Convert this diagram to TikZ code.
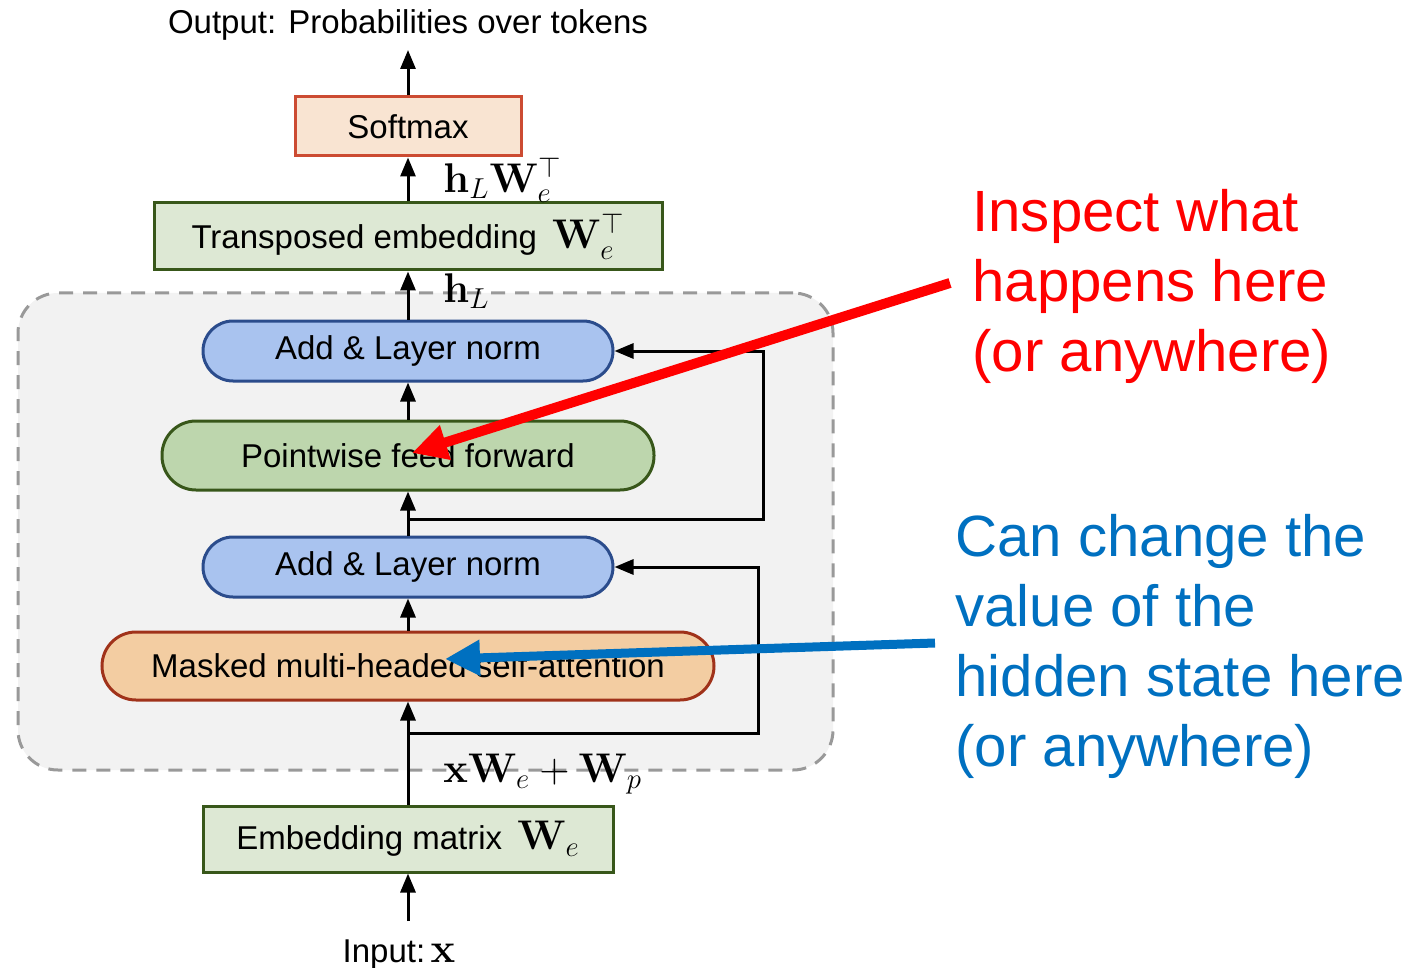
\documentclass[tikz,border=0pt]{standalone}
\usepackage[no-math]{fontspec}
\setmainfont{Liberation Sans}
\usetikzlibrary{arrows.meta}
\definecolor{smfill}{HTML}{F9E4D2}
\definecolor{smdraw}{HTML}{CC4B32}
\definecolor{gfill}{HTML}{DDE8D4}
\definecolor{gdraw}{HTML}{38571A}
\definecolor{bfill}{HTML}{A9C3EF}
\definecolor{bdraw}{HTML}{2B4C8C}
\definecolor{pfill}{HTML}{BDD6AD}
\definecolor{mfill}{HTML}{F3CDA2}
\definecolor{mdraw}{HTML}{A0321A}
\definecolor{regfill}{HTML}{F2F2F2}
\definecolor{regdraw}{HTML}{999999}
\definecolor{annred}{HTML}{FF0000}
\definecolor{annblue}{HTML}{0070C0}
\newcommand{\boxmath}[1]{{\fontsize{20.5}{22}\selectfont$#1$}}
\begin{document}
\begin{tikzpicture}[x=0.5pt,y=-0.5pt,
  box/.style={draw, line width=1.5pt, inner sep=0pt, font=\fontsize{16.5}{19}\selectfont},
  pill/.style={box, rounded corners=#1},
  conn/.style={line width=1.5pt, -{Triangle[length=9.5pt,width=7.5pt]}},
  resid/.style={line width=1.5pt, -{Triangle[length=9.5pt,width=7.5pt]}},
  mlabel/.style={anchor=west, inner sep=0pt, font=\fontsize{21.5}{23}\selectfont},
  plain/.style={inner sep=0pt, font=\fontsize{16.5}{19}\selectfont},
  annot/.style={anchor=north west, inner sep=0pt, align=left, font=\fontsize{29.1}{35}\selectfont},
  annarrow/.style={line width=#1, -{Triangle[length=17.5pt,width=17pt]}}
]
\useasboundingbox (0,0) rectangle (1424,968);

% region
\node[draw=regdraw, fill=regfill, dashed, dash pattern=on 7pt off 5pt, line width=1.5pt,
  rounded corners=20pt, minimum width=407.5pt, minimum height=238.5pt, inner sep=0pt]
  (region) at (425.5,531.5) {};

% boxes
\node[box, fill=smfill, draw=smdraw, minimum width=113pt, minimum height=29.5pt] (softmax) at (408,126.5) {Softmax};
\node[box, fill=gfill, draw=gdraw, minimum width=254pt, minimum height=33.5pt] (trans) at (408,236.5) {Transposed embedding\ \hspace{3pt}\boxmath{\mathbf{W}_e^\top}};
\node[pill=15pt, fill=bfill, draw=bdraw, minimum width=205pt, minimum height=30pt] (add1) at (408,351) {Add \& Layer norm};
\node[pill=17pt, fill=pfill, draw=gdraw, minimum width=246pt, minimum height=34.5pt] (pff) at (408,455.5) {Pointwise feed forward};
\node[pill=15pt, fill=bfill, draw=bdraw, minimum width=205pt, minimum height=30pt] (add2) at (408,567) {Add \& Layer norm};
\node[pill=17pt, fill=mfill, draw=mdraw, minimum width=306pt, minimum height=34pt] (mha) at (408,666) {Masked multi-headed self-attention};
\node[box, fill=gfill, draw=gdraw, minimum width=205pt, minimum height=33pt] (emb) at (408,839) {Embedding matrix\ \hspace{3pt}\boxmath{\mathbf{W}_e}};

% texts
\node[plain] (out) at (408,25) {Output: Probabilities over tokens};
\node[plain, anchor=base] (in) at (399,962) {Input:\,\boxmath{\mathbf{x}}};
\coordinate (outtip) at (408,50);
\coordinate (instart) at (408,921);

% labels
\node[mlabel] (l1) at (443,180) {$\mathbf{h}_L\mathbf{W}_e^\top$};
\node[mlabel] (l2) at (443,291) {$\mathbf{h}_L$};
\node[mlabel] (l3) at (443,774) {$\mathbf{x}\mathbf{W}_e+\mathbf{W}_p$};

% main flow
\draw[conn] (softmax.north) -- (outtip);
\draw[conn] (trans.north) -- (softmax.south);
\draw[conn] (add1.north) -- (trans.south);
\draw[conn] (pff.north) -- (add1.south);
\draw[conn] (add2.north) -- (pff.south);
\draw[conn] (mha.north) -- (add2.south);
\draw[conn] (emb.north) -- (mha.south);
\draw[conn] (instart) -- (emb.south);

% residuals
\coordinate (r1a) at (408,733);
\coordinate (r2a) at (408,519);
\draw[resid] (r1a) -- (758,733) -- (758,567) -- (add2.east);
\draw[resid] (r2a) -- (763,519) -- (763,351) -- (add1.east);

% annotations
\node[annot, text=annred] (redtxt) at (972,189) {Inspect what\\happens here\\(or anywhere)};
\node[annot, text=annblue] (bluetxt) at (955,514) {Can change the\\value of the\\hidden state here\\(or anywhere)};
\coordinate (redstart) at (950,283);
\coordinate (redtip) at (412,453);
\coordinate (bluestart) at (935,643);
\coordinate (bluetip) at (445,659);
\draw[annarrow=5pt, annred] (redstart) -- (redtip);
\draw[annarrow=4.5pt, annblue] (bluestart) -- (bluetip);
\end{tikzpicture}
\end{document}
